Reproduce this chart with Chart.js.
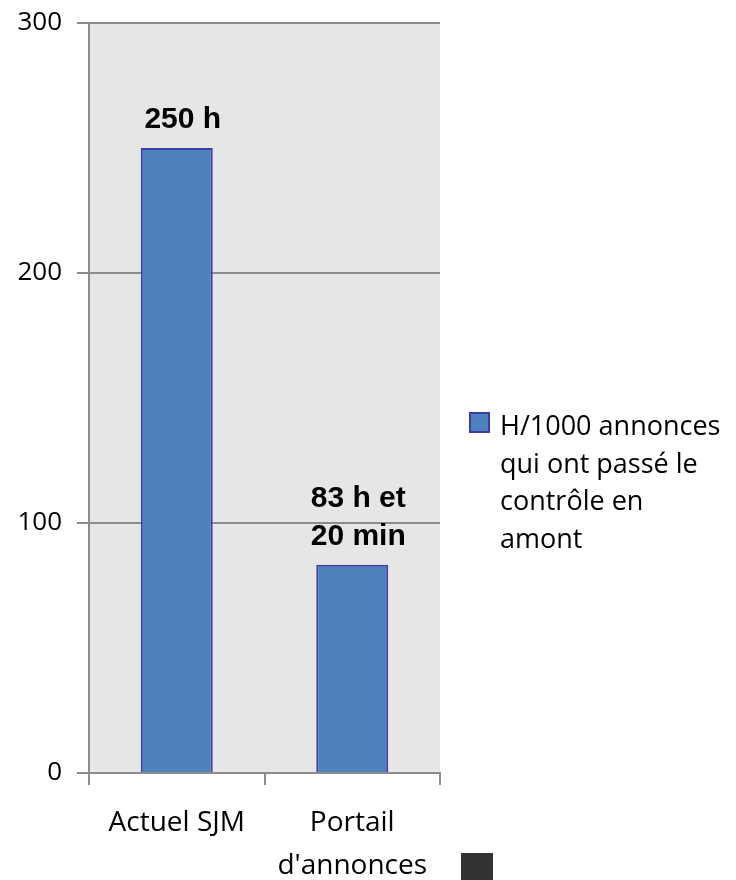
<!DOCTYPE html>
<html>
<head>
<meta charset="utf-8">
<script src="https://cdn.jsdelivr.net/npm/chart.js@4.4.1/dist/chart.umd.min.js"></script>
<style>
  html, body { margin: 0; padding: 0; background: #ffffff; }
  #wrap { width: 736px; height: 880px; position: relative; }
</style>
</head>
<body>
<div id="wrap"><canvas id="c" width="736" height="880"></canvas></div>
<script>
// ---- data ----
const categories = [['Actuel SJM'], ['Portail', "d'annonces"]];
const seriesLabel = 'H/1000 annonces qui ont passé le contrôle en amont';
const legendLines = ['H/1000 annonces', 'qui ont passé le', 'contrôle en', 'amont'];
const values = [250, 83.33];
const valueLabels = [['250 h'], ['83 h et', '20 min']];
const yTicks = [0, 100, 200, 300];

// ---- styles ----
const BAR_FILL = '#4f81bd';
const BAR_BORDER = '#3d3daa';
const GRID = '#8c8c8c';
const PLOT_BG = '#e6e6e6';
const TEXT_FONT = '"Open Sans", Lato, sans-serif';

const plotBg = {
  id: 'plotBg',
  beforeDraw(chart) {
    const { ctx, chartArea: a } = chart;
    ctx.save();
    ctx.fillStyle = PLOT_BG;
    ctx.fillRect(a.left, a.top, a.right - a.left, a.bottom - a.top);
    ctx.restore();
  }
};

const valueLabelPlugin = {
  id: 'valueLabels',
  afterDatasetsDraw(chart) {
    const { ctx } = chart;
    const meta = chart.getDatasetMeta(0);
    ctx.save();
    ctx.fillStyle = '#000';
    ctx.font = 'bold 30px "Liberation Sans", Arial, sans-serif';
    ctx.textAlign = 'center';
    ctx.textBaseline = 'alphabetic';
    meta.data.forEach((bar, i) => {
      const lines = valueLabels[i];
      const n = lines.length;
      lines.forEach((t, j) => {
        const y = bar.y - 20 - (n - 1 - j) * 38;
        ctx.fillText(t, bar.x + 6, y);
      });
    });
    ctx.restore();
  }
};

const legendPlugin = {
  id: 'customLegend',
  afterDraw(chart) {
    const { ctx, chartArea: a } = chart;
    const x0 = a.right + 30;
    const y0 = 413;
    ctx.save();
    ctx.fillStyle = BAR_FILL;
    ctx.strokeStyle = BAR_BORDER;
    ctx.lineWidth = 2;
    ctx.fillRect(x0, y0, 19, 19);
    ctx.strokeRect(x0, y0, 19, 19);
    ctx.fillStyle = '#000';
    ctx.font = '27px ' + TEXT_FONT;
    ctx.textAlign = 'left';
    ctx.textBaseline = 'alphabetic';
    legendLines.forEach((t, i) => {
      ctx.fillText(t, x0 + 30, y0 + 22 + i * 37.5);
    });
    // stray dark legend key at bottom
    ctx.fillStyle = '#333333';
    ctx.fillRect(a.right + 21, a.bottom + 80, 32, 30);
    ctx.restore();
  }
};

new Chart(document.getElementById('c'), {
  type: 'bar',
  data: {
    labels: categories,
    datasets: [{
      label: seriesLabel,
      data: values,
      backgroundColor: BAR_FILL,
      borderColor: BAR_BORDER,
      borderWidth: 2,
      barPercentage: 0.41,
      categoryPercentage: 1.0
    }]
  },
  options: {
    responsive: false,
    animation: false,
    devicePixelRatio: 1,
    layout: { padding: { left: 0, right: 296, top: 23, bottom: 0 } },
    plugins: {
      legend: { display: false },
      tooltip: { enabled: false }
    },
    scales: {
      x: {
        offset: true,
        grid: {
          offset: true,
          drawOnChartArea: false,
          drawTicks: true,
          tickLength: 12,
          color: GRID,
          lineWidth: 2
        },
        border: { display: true, color: GRID, width: 2 },
        ticks: {
          color: '#000',
          padding: 16,
          maxRotation: 0,
          autoSkip: false,
          font: { family: TEXT_FONT, size: 28, lineHeight: 1.55 }
        },
        afterFit(scale) { scale.height = 107; }
      },
      y: {
        min: 0,
        max: 300,
        afterBuildTicks(scale) { scale.ticks = yTicks.map(v => ({ value: v })); },
        grid: {
          drawOnChartArea: true,
          drawTicks: true,
          tickLength: 12,
          color: GRID,
          lineWidth: 2
        },
        border: { display: true, color: GRID, width: 2 },
        ticks: {
          color: '#000',
          padding: 15,
          font: { family: TEXT_FONT, size: 26, lineHeight: 0.5 }
        },
        afterFit(scale) { scale.width = 89; }
      }
    }
  },
  plugins: [plotBg, valueLabelPlugin, legendPlugin]
});
</script>
</body>
</html>
